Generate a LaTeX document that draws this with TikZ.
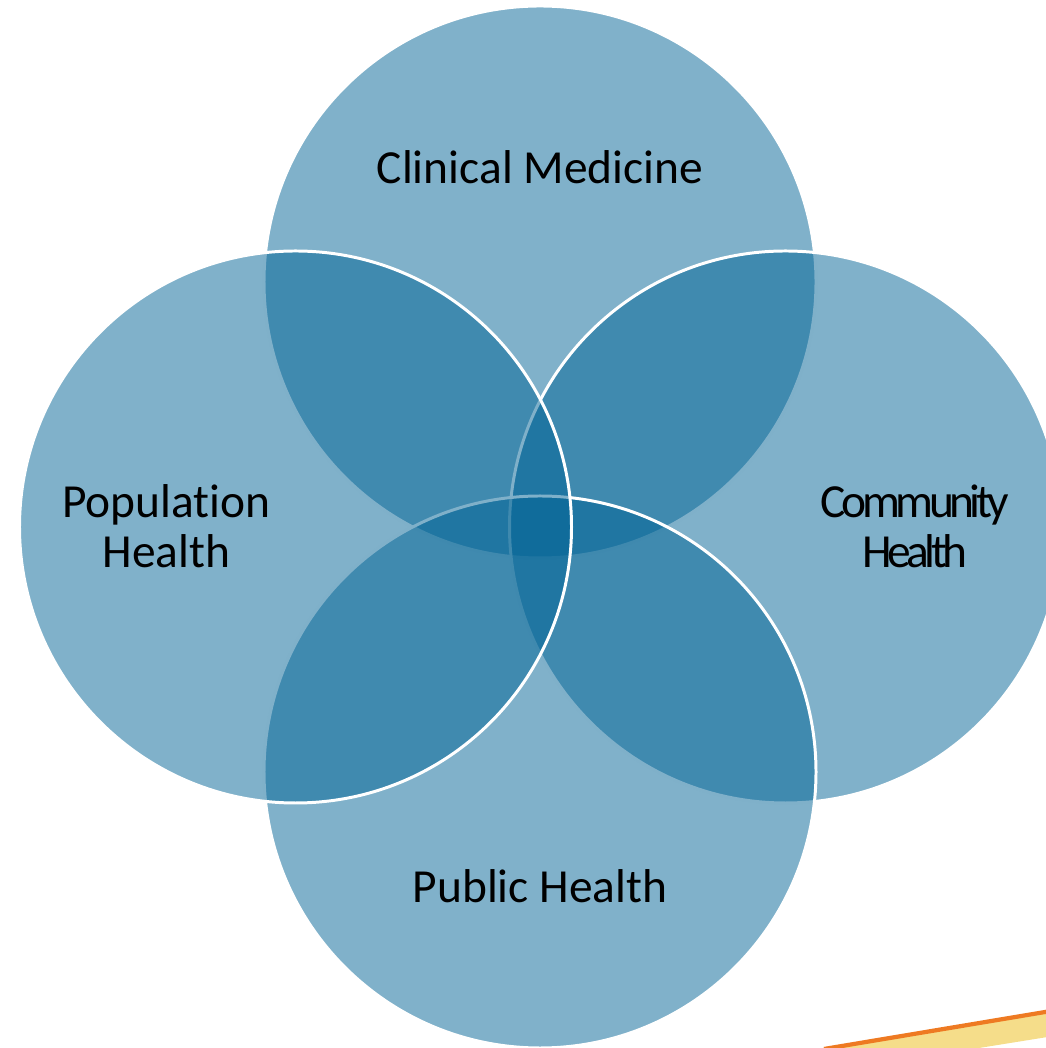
\documentclass[tikz,border=0pt]{standalone}
\usepackage{fontspec}
\setmainfont{Carlito}[Ligatures=NoCommon]
\newfontfamily\tightfont{Carlito}[LetterSpace=-9.5, Ligatures=NoCommon]
\usepackage{tikz}
\usepackage{xcolor}
\definecolor{vennblue}{RGB}{1,99,149}
\definecolor{bandyellow}{RGB}{245,221,138}
\definecolor{bandorange}{RGB}{238,122,34}

\tikzset{
    venn/.style={circle, minimum size=5.52cm, inner sep=0pt,
        fill=vennblue, fill opacity=0.5, draw=white, line width=0.85pt},
    vennlabel/.style={font=\fontsize{13.5}{14.5}\selectfont, align=center, anchor=base}
}

\begin{document}
\begin{tikzpicture}
    \useasboundingbox (0,0) rectangle (10.46,10.48);
    \clip (0,0) rectangle (10.46,10.48);

    % Corner band
    \fill[bandyellow] (8.27,0) -- (10.6,0.38) -- (10.6,0.13) -- (9.79,0) -- cycle;
    \draw[bandorange, line width=1.2pt] (8.24,-0.01) -- (10.6,0.385);

    % Four overlapping fields
    \node[venn] (clinical) at (5.40,7.66) {};
    \node[venn] (community) at (7.855,5.21) {};
    \node[venn] (public) at (5.40,2.76) {};
    \node[venn] (population) at (2.955,5.21) {};

    % Labels (base = last line)
    \node[vennlabel] (clinicaltext) at (5.40,8.64) {Clinical Medicine};
    \node[vennlabel] (populationtext) at (1.665,4.80) {Population\\Health};
    \node[vennlabel, font=\fontsize{13.5}{14.5}\selectfont\tightfont] (communitytext) at (9.15,4.80) {Community\\Health};
    \node[vennlabel] (publictext) at (5.40,1.45) {Public Health};
\end{tikzpicture}
\end{document}
